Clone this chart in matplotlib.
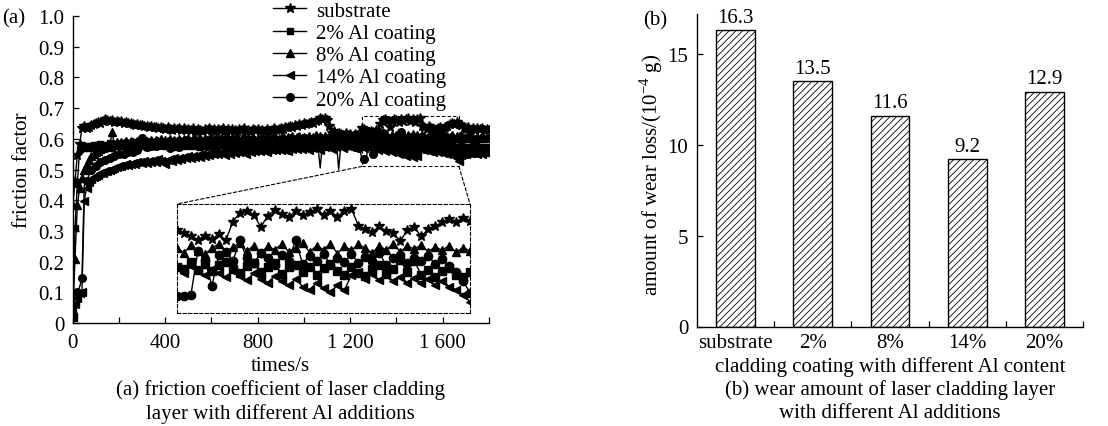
import numpy as np
import matplotlib
matplotlib.use('Agg')
import matplotlib.pyplot as plt
from matplotlib.patches import Rectangle, ConnectionPatch

plt.rcParams['font.family'] = ['Liberation Serif', 'DejaVu Serif']
plt.rcParams['font.size'] = 15
plt.rcParams['hatch.linewidth'] = 0.6

# friction factor, sampled every 10 s from 0 to 1800 s
time = np.arange(0, 1810, 10)

substrate = [
    0.380, 0.462, 0.548, 0.582, 0.636, 0.641, 0.634, 0.640, 0.646, 0.648,
    0.652, 0.655, 0.650, 0.659, 0.663, 0.660, 0.657, 0.661, 0.656, 0.658,
    0.654, 0.657, 0.652, 0.655, 0.650, 0.653, 0.648, 0.646, 0.649, 0.644,
    0.646, 0.641, 0.643, 0.638, 0.642, 0.637, 0.639, 0.634, 0.640, 0.636,
    0.632, 0.637, 0.633, 0.629, 0.635, 0.631, 0.636, 0.630, 0.634, 0.628,
    0.633, 0.629, 0.635, 0.627, 0.632, 0.630, 0.626, 0.633, 0.629, 0.634,
    0.628, 0.631, 0.625, 0.632, 0.629, 0.634, 0.627, 0.631, 0.626, 0.633,
    0.629, 0.625, 0.632, 0.628, 0.634, 0.627, 0.630, 0.624, 0.631, 0.628,
    0.633, 0.626, 0.630, 0.627, 0.632, 0.625, 0.629, 0.634, 0.628, 0.631,
    0.636, 0.633, 0.640, 0.637, 0.643, 0.639, 0.646, 0.642, 0.648, 0.645,
    0.650, 0.647, 0.653, 0.656, 0.651, 0.659, 0.662, 0.667, 0.663, 0.669,
    0.661, 0.642, 0.618, 0.624, 0.613, 0.620, 0.616, 0.611, 0.619, 0.614,
    0.617, 0.610, 0.615, 0.612, 0.618, 0.636, 0.631, 0.626, 0.621, 0.627,
    0.622, 0.629, 0.620, 0.648, 0.662, 0.665, 0.659, 0.640, 0.657, 0.666,
    0.660, 0.655, 0.665, 0.658, 0.663, 0.667, 0.659, 0.664, 0.656, 0.665,
    0.668, 0.642, 0.637, 0.633, 0.641, 0.634, 0.631, 0.619, 0.635, 0.640,
    0.626, 0.637, 0.641, 0.647, 0.652, 0.648, 0.654, 0.649, 0.645, 0.636,
    0.632, 0.638, 0.630, 0.635, 0.629, 0.636, 0.631, 0.634, 0.628, 0.633,
    0.630]

al2 = [
    0.050, 0.310, 0.452, 0.568, 0.574, 0.571, 0.578, 0.569, 0.576, 0.580,
    0.572, 0.579, 0.583, 0.574, 0.581, 0.577, 0.585, 0.571, 0.580, 0.576,
    0.584, 0.575, 0.579, 0.586, 0.573, 0.581, 0.577, 0.588, 0.574, 0.582,
    0.578, 0.586, 0.572, 0.583, 0.579, 0.590, 0.575, 0.584, 0.580, 0.587,
    0.576, 0.585, 0.581, 0.592, 0.574, 0.583, 0.579, 0.588, 0.576, 0.585,
    0.582, 0.575, 0.589, 0.580, 0.586, 0.573, 0.584, 0.579, 0.591, 0.577,
    0.586, 0.581, 0.574, 0.588, 0.579, 0.585, 0.572, 0.583, 0.589, 0.578,
    0.584, 0.576, 0.590, 0.581, 0.575, 0.587, 0.580, 0.586, 0.573, 0.582,
    0.588, 0.577, 0.584, 0.579, 0.591, 0.576, 0.585, 0.581, 0.574, 0.587,
    0.580, 0.586, 0.575, 0.583, 0.589, 0.578, 0.584, 0.572, 0.586, 0.580,
    0.585, 0.577, 0.590, 0.582, 0.576, 0.584, 0.579, 0.588, 0.574, 0.583,
    0.578, 0.586, 0.580, 0.575, 0.587, 0.581, 0.576, 0.584, 0.579, 0.585,
    0.577, 0.583, 0.580, 0.574, 0.586, 0.580, 0.577, 0.587, 0.575, 0.584,
    0.573, 0.582, 0.587, 0.576, 0.571, 0.581, 0.585, 0.572, 0.580, 0.586,
    0.569, 0.579, 0.583, 0.572, 0.580, 0.568, 0.578, 0.584, 0.573, 0.567,
    0.579, 0.571, 0.566, 0.577, 0.582, 0.569, 0.576, 0.590, 0.572, 0.589,
    0.568, 0.575, 0.565, 0.573, 0.578, 0.567, 0.564, 0.572, 0.577, 0.566,
    0.573, 0.567, 0.571, 0.575, 0.569, 0.572, 0.566, 0.574, 0.570, 0.568,
    0.572]

al8 = [
    0.020, 0.210, 0.385, 0.440, 0.472, 0.498, 0.517, 0.531, 0.543, 0.550,
    0.556, 0.561, 0.566, 0.570, 0.574, 0.580, 0.576, 0.622, 0.583, 0.588,
    0.584, 0.590, 0.586, 0.592, 0.587, 0.594, 0.589, 0.585, 0.593, 0.590,
    0.596, 0.588, 0.594, 0.591, 0.597, 0.589, 0.595, 0.592, 0.598, 0.590,
    0.596, 0.593, 0.599, 0.591, 0.597, 0.594, 0.600, 0.592, 0.598, 0.595,
    0.601, 0.593, 0.598, 0.604, 0.596, 0.601, 0.594, 0.603, 0.597, 0.600,
    0.605, 0.595, 0.602, 0.598, 0.604, 0.596, 0.601, 0.606, 0.597, 0.603,
    0.599, 0.605, 0.596, 0.602, 0.607, 0.598, 0.604, 0.600, 0.606, 0.597,
    0.603, 0.599, 0.606, 0.601, 0.597, 0.605, 0.600, 0.608, 0.602, 0.598,
    0.604, 0.609, 0.600, 0.606, 0.602, 0.608, 0.599, 0.605, 0.610, 0.601,
    0.607, 0.603, 0.609, 0.600, 0.606, 0.611, 0.602, 0.608, 0.604, 0.610,
    0.603, 0.609, 0.605, 0.600, 0.607, 0.612, 0.604, 0.609, 0.601, 0.606,
    0.610, 0.603, 0.608, 0.605, 0.611, 0.609, 0.601, 0.613, 0.604, 0.599,
    0.608, 0.615, 0.602, 0.610, 0.616, 0.604, 0.612, 0.601, 0.611, 0.606,
    0.614, 0.603, 0.609, 0.616, 0.602, 0.612, 0.606, 0.615, 0.600, 0.611,
    0.605, 0.614, 0.608, 0.601, 0.612, 0.605, 0.615, 0.603, 0.611, 0.607,
    0.613, 0.603, 0.610, 0.605, 0.612, 0.602, 0.609, 0.604, 0.611, 0.602,
    0.607, 0.603, 0.609, 0.604, 0.600, 0.606, 0.602, 0.608, 0.601, 0.605,
    0.603]

al14 = [
    0.020, 0.062, 0.081, 0.098, 0.102, 0.398, 0.441, 0.458, 0.468, 0.474,
    0.479, 0.483, 0.487, 0.490, 0.494, 0.496, 0.499, 0.502, 0.505, 0.507,
    0.510, 0.512, 0.514, 0.517, 0.515, 0.519, 0.521, 0.518, 0.523, 0.525,
    0.522, 0.527, 0.520, 0.529, 0.524, 0.531, 0.526, 0.533, 0.528, 0.523,
    0.518, 0.530, 0.535, 0.527, 0.537, 0.532, 0.539, 0.534, 0.541, 0.536,
    0.543, 0.538, 0.545, 0.540, 0.548, 0.542, 0.550, 0.545, 0.552, 0.547,
    0.554, 0.549, 0.556, 0.551, 0.558, 0.553, 0.546, 0.557, 0.552, 0.559,
    0.555, 0.561, 0.556, 0.563, 0.558, 0.552, 0.562, 0.557, 0.564, 0.559,
    0.565, 0.560, 0.566, 0.561, 0.556, 0.567, 0.562, 0.568, 0.563, 0.569,
    0.564, 0.570, 0.565, 0.559, 0.571, 0.566, 0.572, 0.567, 0.573, 0.568,
    0.574, 0.569, 0.563, 0.575, 0.570, 0.576, 0.571, 0.565, 0.577, 0.572,
    0.578, 0.573, 0.567, 0.579, 0.574, 0.580, 0.575, 0.569, 0.581, 0.576,
    0.582, 0.577, 0.571, 0.580, 0.575, 0.579, 0.570, 0.581, 0.573, 0.567,
    0.577, 0.570, 0.564, 0.574, 0.566, 0.560, 0.570, 0.562, 0.556, 0.566,
    0.558, 0.552, 0.562, 0.550, 0.545, 0.556, 0.548, 0.542, 0.552, 0.545,
    0.567, 0.572, 0.562, 0.569, 0.560, 0.567, 0.558, 0.565, 0.556, 0.563,
    0.555, 0.561, 0.552, 0.559, 0.550, 0.545, 0.538, 0.527, 0.548, 0.555,
    0.551, 0.557, 0.553, 0.559, 0.554, 0.550, 0.556, 0.552, 0.558, 0.553,
    0.555]

al20 = [
    0.030, 0.088, 0.100, 0.118, 0.145, 0.448, 0.462, 0.480, 0.497, 0.506,
    0.513, 0.519, 0.524, 0.528, 0.532, 0.535, 0.539, 0.541, 0.544, 0.546,
    0.549, 0.553, 0.551, 0.571, 0.556, 0.560, 0.558, 0.577, 0.563, 0.567,
    0.603, 0.569, 0.573, 0.566, 0.575, 0.570, 0.578, 0.572, 0.580, 0.574,
    0.582, 0.576, 0.571, 0.584, 0.578, 0.586, 0.574, 0.581, 0.588, 0.579,
    0.585, 0.577, 0.590, 0.582, 0.575, 0.587, 0.581, 0.592, 0.578, 0.586,
    0.580, 0.589, 0.576, 0.584, 0.591, 0.579, 0.586, 0.582, 0.573, 0.588,
    0.583, 0.590, 0.577, 0.585, 0.592, 0.580, 0.587, 0.575, 0.584, 0.589,
    0.578, 0.586, 0.593, 0.581, 0.588, 0.576, 0.585, 0.591, 0.579, 0.587,
    0.582, 0.589, 0.574, 0.586, 0.592, 0.580, 0.587, 0.583, 0.590, 0.577,
    0.585, 0.591, 0.579, 0.587, 0.582, 0.593, 0.580, 0.505, 0.586, 0.590,
    0.581, 0.588, 0.578, 0.586, 0.592, 0.500, 0.584, 0.589, 0.577, 0.585,
    0.579, 0.586, 0.574, 0.583, 0.570, 0.536, 0.535, 0.538, 0.604, 0.590,
    0.551, 0.598, 0.603, 0.588, 0.620, 0.593, 0.585, 0.601, 0.594, 0.582,
    0.598, 0.588, 0.621, 0.584, 0.597, 0.589, 0.600, 0.583, 0.594, 0.587,
    0.599, 0.586, 0.595, 0.589, 0.601, 0.582, 0.593, 0.598, 0.585, 0.594,
    0.588, 0.597, 0.584, 0.592, 0.581, 0.572, 0.558, 0.541, 0.549, 0.556,
    0.552, 0.558, 0.554, 0.560, 0.555, 0.551, 0.557, 0.553, 0.559, 0.554,
    0.556]

series = [substrate, al2, al8, al14, al20]
series_names = ['substrate', '2% Al coating', '8% Al coating',
                '14% Al coating', '20% Al coating']
markers = ['*', 's', '^', '<', 'o']
msizes = [7, 5, 5.5, 5.5, 5.5]
main_every = [1, 1, 1, 1, (0, 2)]

# zoomed window
zoom_t = [1250, 1670]
zoom_f = [0.51, 0.675]

# wear loss, 10^-4 g
categories = ['substrate', '2%', '8%', '14%', '20%']
wear_loss = [16.3, 13.5, 11.6, 9.2, 12.9]

W, H = 1108, 427
fig = plt.figure(figsize=(W / 100, H / 100), dpi=100)

# ---- (a) friction factor ----
ax1 = fig.add_axes([72.7 / W, (H - 324) / H, 416.3 / W, 307 / H])
handles = []
for i in range(5):
    ln, = ax1.plot(time, series[i], color='black', lw=1.0, marker=markers[i],
                   ms=msizes[i], markevery=main_every[i],
                   label=series_names[i])
    handles.append(ln)
ax1.set_xlim(0, 1800)
ax1.set_ylim(0, 1.0)
ax1.set_xticks([0, 400, 800, 1200, 1600])
ax1.set_xticklabels(['0', '400', '800', '1 200', '1 600'])
ax1.set_xticks([200, 600, 1000, 1400, 1800], minor=True)
ax1.set_yticks(np.arange(0, 1.01, 0.1))
ax1.set_yticklabels(['0', '0.1', '0.2', '0.3', '0.4', '0.5', '0.6', '0.7',
                     '0.8', '0.9', '1.0'])
ax1.tick_params(which='both', direction='in', length=4, width=0.9)
ax1.tick_params(axis='x', pad=7)
ax1.tick_params(axis='y', pad=6)
for s in ['top', 'right']:
    ax1.spines[s].set_visible(False)
for s in ['left', 'bottom']:
    ax1.spines[s].set_linewidth(1.0)
ax1.set_ylabel('friction factor')
ax1.yaxis.set_label_coords(-0.098, 0.5)

ax1.add_patch(Rectangle((zoom_t[0], zoom_f[0]), zoom_t[1] - zoom_t[0],
                        zoom_f[1] - zoom_f[0], fill=False, ls=(0, (3, 2)),
                        lw=0.8, zorder=5))

axins = fig.add_axes([177 / W, (H - 314) / H, 293 / W, 109 / H])
for i in range(5):
    axins.plot(time, series[i], color='black', lw=1.0, marker=markers[i],
               ms=msizes[i] + 0.5, markevery=1)
axins.set_xlim(zoom_t)
axins.set_ylim(zoom_f)
axins.set_xticks([])
axins.set_yticks([])
for s in axins.spines.values():
    s.set_linestyle((0, (3, 2)))
    s.set_linewidth(0.8)

for xa, xb in [(zoom_t[0], 0), (zoom_t[1], 1)]:
    con = ConnectionPatch(xyA=(xa, zoom_f[0]), coordsA=ax1.transData,
                          xyB=(xb, 1), coordsB=axins.transAxes,
                          ls=(0, (3, 2)), lw=0.8, color='black')
    fig.add_artist(con)

fig.legend(handles, series_names, loc='upper left',
           bbox_to_anchor=(273 / W, 1 - 2 / H), frameon=False,
           handlelength=1.6, handletextpad=0.45, labelspacing=0.13,
           borderpad=0.0, borderaxespad=0.0, fontsize=15)

fig.text(2 / W, 1 - 19 / H, '(a)', va='center', ha='left')
fig.text(280 / W, 1 - 367 / H, 'times/s', ha='center', va='center')
fig.text(280 / W, 1 - 390 / H, '(a) friction coefficient of laser cladding',
         ha='center', va='center')
fig.text(280 / W, 1 - 414 / H, 'layer with different Al additions',
         ha='center', va='center')

# ---- (b) wear loss ----
ax2 = fig.add_axes([696.7 / W, (H - 327.5) / H, 386.5 / W, 312.5 / H])
xpos = np.arange(len(categories))
ax2.bar(xpos, wear_loss, width=0.5, color='white', edgecolor='black',
        hatch='/////', lw=1.0)
for xp, v in zip(xpos, wear_loss):
    ax2.text(xp, v + 0.2, '%.1f' % v, ha='center', va='bottom')
ax2.set_xlim(-0.5, 4.5)
ax2.set_ylim(0, 17.2)
ax2.set_xticks(xpos)
ax2.set_xticklabels(categories)
ax2.set_xticks([0.5, 1.5, 2.5, 3.5, 4.5], minor=True)
ax2.set_yticks([0, 5, 10, 15])
ax2.tick_params(which='both', direction='in', length=4, width=0.9)
ax2.tick_params(axis='x', which='major', length=0, pad=5)
ax2.tick_params(axis='y', pad=6)
for s in ['top', 'right']:
    ax2.spines[s].set_visible(False)
for s in ['left', 'bottom']:
    ax2.spines[s].set_linewidth(1.0)
ax2.set_ylabel('amount of wear loss/(10$^{\\mathregular{-4}}$ g)')
ax2.yaxis.set_label_coords(-0.082, 0.49)

fig.text(655 / W, 1 - 21 / H, '(b)', va='center', ha='center')
fig.text(890 / W, 1 - 367 / H, 'cladding coating with different Al content',
         ha='center', va='center')
fig.text(890 / W, 1 - 390 / H, '(b) wear amount of laser cladding layer',
         ha='center', va='center')
fig.text(890 / W, 1 - 414 / H, 'with different Al additions',
         ha='center', va='center')

fig.savefig('out.png', dpi=100)
